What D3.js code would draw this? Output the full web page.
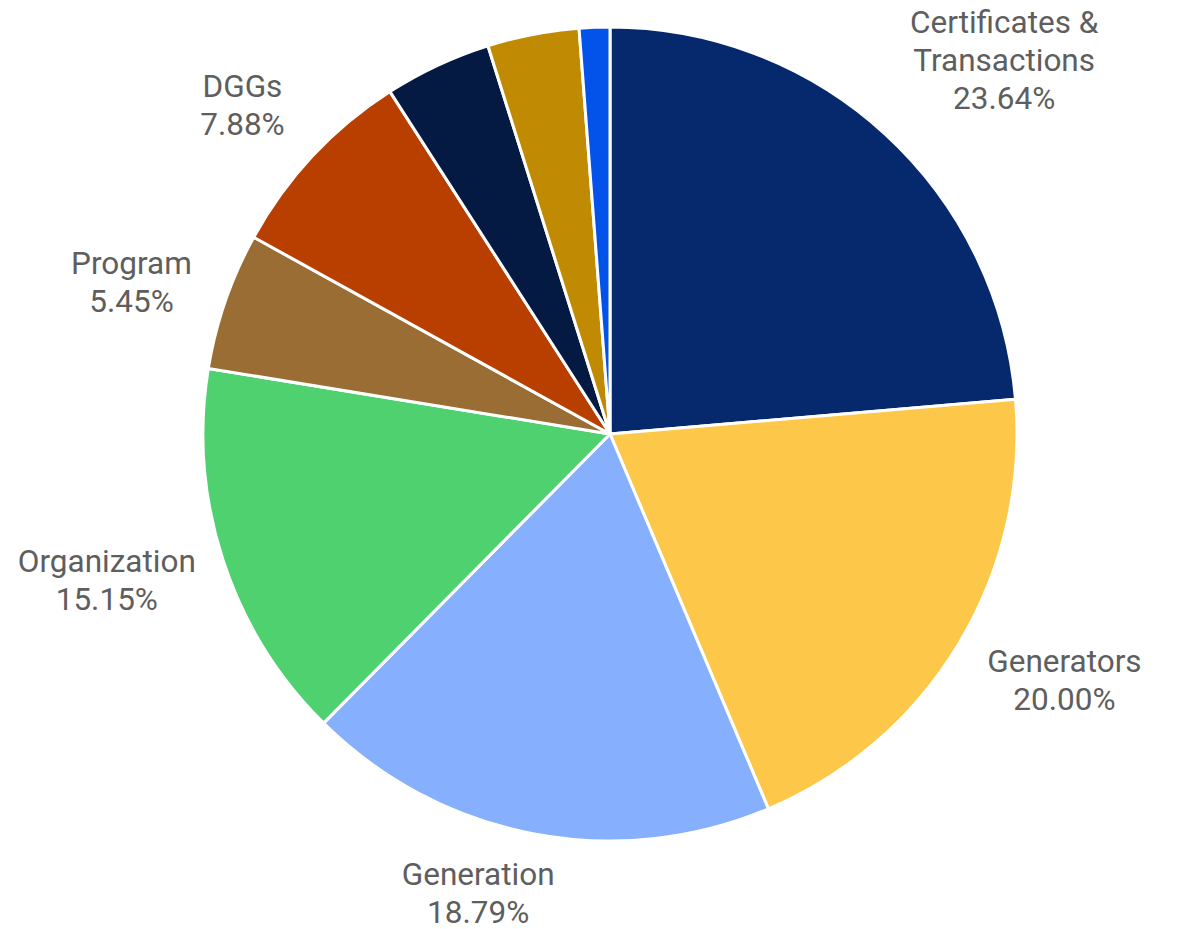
<!DOCTYPE html>
<html>
<head>
<meta charset="utf-8">
<script src="https://cdn.jsdelivr.net/npm/d3@7"></script>
<style>
  body { margin: 0; background: #fff; }
  text { font-family: Roboto, sans-serif; }
</style>
</head>
<body>
<div id="chart"></div>
<script>
// slice data, clockwise from 12 o'clock
const categories = ["Certificates & Transactions", "Generators", "Generation", "Organization", "Program", "DGGs", "Other A", "Other B", "Other C"];
const values = [39, 33, 31, 25, 9, 13, 7, 6, 2];
const labelLines = [["Certificates &", "Transactions"], ["Generators"], ["Generation"], ["Organization"], ["Program"], ["DGGs"], null, null, null];
const colors = ["#05296c", "#fdc84a", "#86affd", "#4fd170", "#996d33", "#b83f00", "#051a42", "#c08a02", "#0352ea"];

// label placement: angle shift from slice middle (deg) and distance from centre (px)
const labelShift = [4, -2.6, 5.1, 1.8, -1.5, -1.3, 0, 0, 0];
const labelRadius = [543, 517, 478, 524, 502, 493, 0, 0, 0];

const width = 1178, height = 929;
const cx = 610, cy = 434, radius = 407;
const fontSize = 31.5, lineH = 38;
const total = d3.sum(values);

const svg = d3.select("#chart")
    .append("svg")
    .attr("width", width)
    .attr("height", height);

const g = svg.append("g")
    .attr("transform", `translate(${cx},${cy})`);

const pie = d3.pie().sort(null).value(d => d.value);
const arc = d3.arc().innerRadius(0).outerRadius(radius);

const data = categories.map((c, i) => ({ name: c, value: values[i], lines: labelLines[i], color: colors[i], i }));
const arcs = pie(data);

// Slices
g.selectAll(".slice")
    .data(arcs)
    .enter()
    .append("path")
    .attr("class", "slice")
    .attr("d", arc)
    .attr("fill", d => d.data.color)
    .attr("stroke", "#fff")
    .attr("stroke-width", 3)
    .attr("stroke-linejoin", "round");

// Labels
const capH = 21.5;
arcs.filter(d => d.data.lines).forEach(d => {
    const i = d.data.i;
    const a = (d.startAngle + d.endAngle) / 2 + labelShift[i] * Math.PI / 180;
    const r = labelRadius[i];
    const x = Math.sin(a) * r, y = -Math.cos(a) * r;
    const lines = d.data.lines.concat([(d.data.value / total * 100).toFixed(2) + "%"]);
    const blockH = (lines.length - 1) * lineH + capH;
    const t = g.append("text")
        .attr("text-anchor", "middle")
        .attr("font-size", fontSize)
        .attr("fill", "#5e5e5e")
        .attr("transform", `translate(${x},${y - blockH / 2 + capH})`);
    lines.forEach((l, k) => {
        t.append("tspan").attr("x", 0).attr("dy", k === 0 ? 0 : lineH).text(l);
    });
});
</script>
</body>
</html>
